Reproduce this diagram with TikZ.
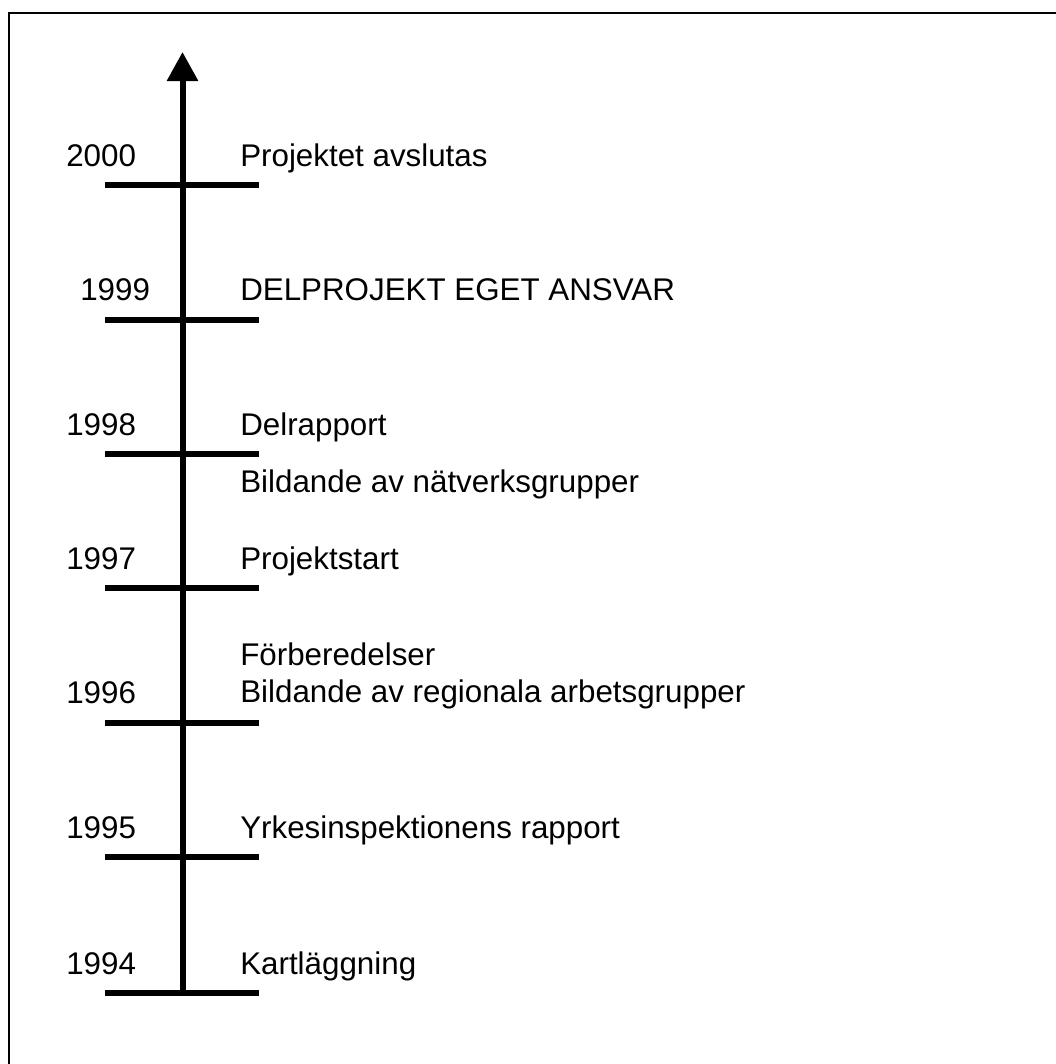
\documentclass[tikz,border=0pt]{standalone}
\usepackage{fontspec}
\setmainfont{Liberation Sans}
\usetikzlibrary{arrows.meta}
\begin{document}
\begin{tikzpicture}[x=0.75pt,y=-0.75pt,
  lbl/.style={inner sep=0pt,anchor=base west,font=\fontsize{23.5pt}{28pt}\selectfont},
  tickline/.style={line width=4.5pt},
  axisline/.style={line width=4.5pt,-{Triangle[length=21.75pt,width=22.5pt]}},
  frameline/.style={line width=1.2pt}]
\useasboundingbox (0,0) rectangle (1056,1064);
\fill[white] (0,0) rectangle (1056,1064);
% frame (only top and left edges visible)
\draw[frameline] (1060,13) -- (9,13) -- (9,1070);
% ticks
\coordinate (t0) at (105,993);
\coordinate (t1) at (105,857);
\coordinate (t2) at (105,723);
\coordinate (t3) at (105,588);
\coordinate (t4) at (105,454);
\coordinate (t5) at (105,320);
\coordinate (t6) at (105,185);
\coordinate (e0) at (259,993);
\coordinate (e1) at (259,857);
\coordinate (e2) at (259,723);
\coordinate (e3) at (259,588);
\coordinate (e4) at (259,454);
\coordinate (e5) at (259,320);
\coordinate (e6) at (259,185);
\foreach \i in {0,...,6} {\draw[tickline] (t\i) -- (e\i);}
% axis
\coordinate (abot) at (182.5,996);
\coordinate (atop) at (182.5,52);
\draw[axisline] (abot) -- (atop);
% year labels
\node[lbl] (y1994) at (66,974) {1994};
\node[lbl] (y1995) at (66,838) {1995};
\node[lbl] (y1996) at (66,703) {1996};
\node[lbl] (y1997) at (66,569) {1997};
\node[lbl] (y1998) at (66,435) {1998};
\node[lbl] (y1999) at (80,300) {1999};
\node[lbl] (y2000) at (66,166) {2000};
% event labels
\node[lbl] (ev1994) at (240,974) {Kartläggning};
\node[lbl] (ev1995) at (240,838) {Yrkesinspektionens rapport};
\node[lbl] (ev1996a) at (240,665) {Förberedelser};
\node[lbl] (ev1996b) at (240,702) {Bildande av regionala arbetsgrupper};
\node[lbl] (ev1997) at (240,569) {Projektstart};
\node[lbl] (ev1998a) at (240,435) {Delrapport};
\node[lbl] (ev1998b) at (240,492) {Bildande av nätverksgrupper};
\node[lbl] (ev1999) at (240,300) {DELPROJEKT EGET ANSVAR};
\node[lbl] (ev2000) at (240,166) {Projektet avslutas};
\end{tikzpicture}
\end{document}
